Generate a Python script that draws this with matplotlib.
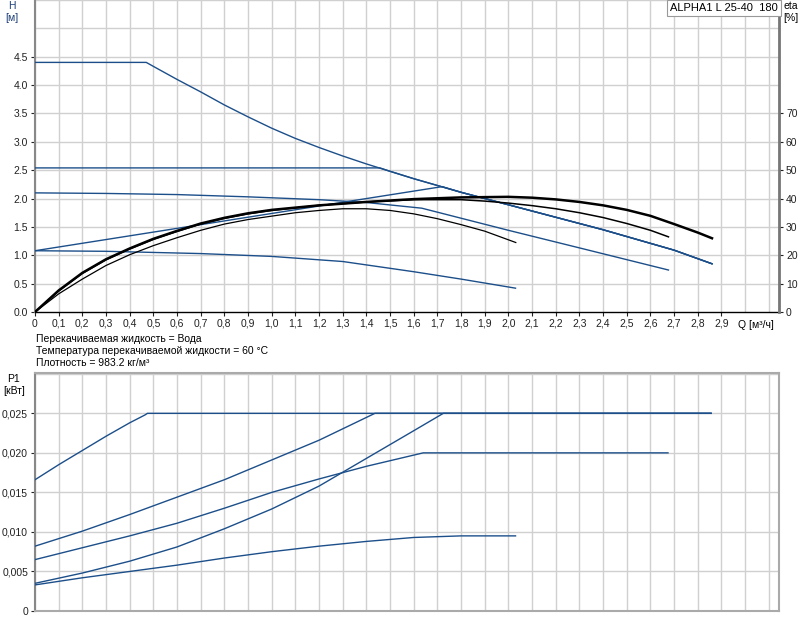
import numpy as np
import matplotlib.pyplot as plt

# pump curve data
# H curves [m]
q_max = [0, 0.47, 0.5, 0.6, 0.7, 0.8, 0.9, 1.0, 1.1, 1.2, 1.3, 1.4, 1.5, 1.6, 1.7, 1.8, 1.9,
         2.0, 2.1, 2.2, 2.3, 2.4, 2.5, 2.6, 2.7, 2.8, 2.86]
h_max = [4.40, 4.40, 4.33, 4.10, 3.88, 3.65, 3.44, 3.24, 3.06, 2.90, 2.75, 2.61, 2.48, 2.35,
         2.23, 2.11, 2.00, 1.89, 1.78, 1.67, 1.56, 1.45, 1.33, 1.21, 1.09, 0.94, 0.85]

q_cp = [0, 1.457, 1.5, 1.6, 1.7, 1.8, 1.9, 2.0, 2.1, 2.2, 2.3, 2.4, 2.5, 2.6, 2.7, 2.8, 2.86]
h_cp = [2.54, 2.54, 2.48, 2.35, 2.23, 2.11, 2.00, 1.89, 1.78, 1.67, 1.56, 1.45, 1.33, 1.21,
        1.09, 0.94, 0.85]

q_pp = [0, 1.72, 1.8, 1.9, 2.0, 2.1, 2.2, 2.3, 2.4, 2.5, 2.6, 2.7, 2.8, 2.86]
h_pp = [1.08, 2.21, 2.11, 2.00, 1.89, 1.78, 1.67, 1.56, 1.45, 1.33, 1.21, 1.09, 0.94, 0.85]

q_mid = [0, 0.3, 0.6, 0.9, 1.2, 1.4, 1.634, 2.0, 2.3, 2.676]
h_mid = [2.10, 2.09, 2.07, 2.03, 1.98, 1.93, 1.83, 1.44, 1.13, 0.74]

q_low = [0, 0.3, 0.7, 1.0, 1.3, 1.6, 1.8, 2.03]
h_low = [1.08, 1.07, 1.03, 0.98, 0.89, 0.71, 0.58, 0.42]

# efficiency curves [%]
q_eta1 = [0, 0.1, 0.2, 0.3, 0.4, 0.5, 0.6, 0.7, 0.8, 0.9, 1.0, 1.2, 1.4, 1.6, 1.8, 2.0,
          2.1, 2.2, 2.3, 2.4, 2.5, 2.6, 2.7, 2.8, 2.86]
eta1 = [0, 7.6, 13.8, 18.6, 22.4, 25.8, 28.6, 31.2, 33.2, 34.8, 36.0, 37.6, 38.8, 39.8,
        40.4, 40.6, 40.3, 39.7, 38.8, 37.6, 36.0, 33.9, 31.0, 28.0, 26.0]

q_eta2 = [0, 0.1, 0.2, 0.3, 0.4, 0.5, 0.6, 0.7, 0.8, 0.9, 1.0, 1.2, 1.4, 1.6, 1.8, 1.9,
          2.0, 2.1, 2.2, 2.3, 2.4, 2.5, 2.6, 2.676]
eta2 = [0, 7.4, 13.6, 18.4, 22.2, 25.6, 28.4, 31.0, 33.0, 34.6, 35.8, 37.6, 38.8, 39.6,
        39.6, 39.1, 38.4, 37.5, 36.4, 35.0, 33.3, 31.2, 28.8, 26.5]

q_eta3 = [0, 0.1, 0.2, 0.3, 0.4, 0.5, 0.6, 0.7, 0.8, 0.9, 1.0, 1.1, 1.2, 1.3, 1.4, 1.5,
          1.6, 1.7, 1.8, 1.9, 2.031]
eta3 = [0, 6.4, 11.6, 16.4, 20.2, 23.4, 26.2, 28.8, 31.0, 32.6, 33.8, 35.0, 35.8, 36.4,
        36.4, 35.8, 34.6, 32.9, 30.8, 28.5, 24.5]

# P1 curves [kW]
qp_max = [0, 0.1, 0.2, 0.3, 0.4, 0.465, 0.475, 2.856]
p_max = [0.0166, 0.0185, 0.0203, 0.0221, 0.0238, 0.0248, 0.0250, 0.0250]

qp_cp = [0, 0.2, 0.4, 0.6, 0.8, 1.0, 1.2, 1.436, 2.856]
p_cp = [0.0082, 0.0101, 0.0122, 0.0144, 0.0166, 0.0191, 0.0216, 0.0250, 0.0250]

qp_mid = [0, 0.2, 0.4, 0.6, 0.8, 1.0, 1.2, 1.4, 1.64, 2.674]
p_mid = [0.0065, 0.0080, 0.0095, 0.0111, 0.0130, 0.0150, 0.0167, 0.0183, 0.0200, 0.0200]

qp_pp = [0, 0.2, 0.4, 0.6, 0.8, 1.0, 1.2, 1.4, 1.6, 1.725, 2.856]
p_pp = [0.0035, 0.0048, 0.0063, 0.0081, 0.0104, 0.0129, 0.0158, 0.0193, 0.0228, 0.0250, 0.0250]

qp_low = [0, 0.2, 0.4, 0.6, 0.8, 1.0, 1.2, 1.4, 1.6, 1.8, 2.03]
p_low = [0.0033, 0.0042, 0.0050, 0.0058, 0.0067, 0.0075, 0.0082, 0.0088, 0.0093, 0.0095, 0.0095]

q_ticks = [round(0.1 * i, 1) for i in range(30)]
q_labels = ["0"] + [f"{v:.1f}".replace(".", ",") for v in q_ticks[1:]]
h_ticks = [0, 0.5, 1.0, 1.5, 2.0, 2.5, 3.0, 3.5, 4.0, 4.5]
eta_ticks = [0, 10, 20, 30, 40, 50, 60, 70]
p_ticks = [0, 0.005, 0.010, 0.015, 0.020, 0.025]
p_labels = ["0", "0,005", "0,010", "0,015", "0,020", "0,025"]

blue = "#1c4f8a"
grid_c = "#d0d0d0"
fs = 7.5
plt.rcParams['font.family'] = ['Liberation Sans', 'DejaVu Sans']

fig = plt.figure(figsize=(8.03, 6.25), dpi=100)

# ---- top chart: H and eta ----
ax = fig.add_axes([35 / 803, 1 - 312 / 625, 744 / 803, 312 / 625])
ax.set_xlim(0, 3.143)
ax.set_ylim(0, 5.5)
for x in np.arange(0, 3.15, 0.1):
    ax.axvline(x, color=grid_c, lw=1, zorder=0)
for y in np.arange(0.5, 5.6, 0.5):
    ax.axhline(y, color=grid_c, lw=1, zorder=0)

for qq, hh in [(q_max, h_max), (q_cp, h_cp), (q_pp, h_pp), (q_mid, h_mid), (q_low, h_low)]:
    ax.plot(qq, hh, color=blue, lw=1.0, zorder=3)

ax.set_xticks(q_ticks)
ax.set_xticklabels(q_labels, fontsize=fs)
ax.set_yticks(h_ticks)
ax.set_yticklabels([f"{v:.1f}" for v in h_ticks], fontsize=fs)
ax.tick_params(axis='both', length=3, width=0.8, pad=2, colors='#222222')
ax.spines['top'].set_visible(False)
ax.spines['left'].set_color('#888888')
ax.spines['left'].set_linewidth(1.5)
ax.spines['bottom'].set_color('black')
ax.spines['bottom'].set_linewidth(1.0)

ax2 = ax.twinx()
ax2.set_ylim(0, 110)
ax2.set_yticks(eta_ticks)
ax2.set_yticklabels([str(v) for v in eta_ticks], fontsize=fs)
ax2.tick_params(axis='y', length=3, width=0.8, pad=2, colors='#222222')
ax2.spines['right'].set_color('#777777')
ax2.spines['right'].set_linewidth(2)
ax2.spines['top'].set_visible(False)
ax2.spines['left'].set_visible(False)
ax2.spines['bottom'].set_visible(False)
ax2.plot(q_eta1, eta1, color='black', lw=1.8, zorder=4)
ax2.plot(q_eta2, eta2, color='black', lw=1.1, zorder=4)
ax2.plot(q_eta3, eta3, color='black', lw=0.9, zorder=4)

fig.text(12 / 803, 1 - 6 / 625, "H", fontsize=fs, ha='center', va='center', color='#1c3f7a')
fig.text(12 / 803, 1 - 18 / 625, "[м]", fontsize=fs, ha='center', va='center', color='#1c3f7a')
fig.text(791 / 803, 1 - 6 / 625, "eta", fontsize=fs, ha='center', va='center')
fig.text(791 / 803, 1 - 18 / 625, "[%]", fontsize=fs, ha='center', va='center')
fig.text(774 / 803, 1 - 325 / 625, "Q [м³/ч]", fontsize=fs, ha='right', va='center')
fig.text(724 / 803, 1 - 8 / 625, "ALPHA1 L 25-40  180", fontsize=fs + 0.5, ha='center', va='center',
         bbox=dict(boxstyle='square,pad=0.25', fc='white', ec='#999999', lw=0.8))

notes = ["Перекачиваемая жидкость = Вода",
         "Температура перекачиваемой жидкости = 60 °C",
         "Плотность = 983.2 кг/м³"]
for i, t in enumerate(notes):
    fig.text(36 / 803, 1 - (339 + 12 * i) / 625, t, fontsize=fs, ha='left', va='center')

# ---- bottom chart: P1 ----
bx = fig.add_axes([35 / 803, 1 - 611 / 625, 744 / 803, 238 / 625])
bx.set_xlim(0, 3.143)
bx.set_ylim(0, 0.0301)
for x in np.arange(0, 3.15, 0.1):
    bx.axvline(x, color=grid_c, lw=1, zorder=0)
for y in np.arange(0.005, 0.0301, 0.005):
    bx.axhline(y, color=grid_c, lw=1, zorder=0)
for qq, pp in [(qp_max, p_max), (qp_cp, p_cp), (qp_mid, p_mid), (qp_pp, p_pp), (qp_low, p_low)]:
    bx.plot(qq, pp, color=blue, lw=1.0, zorder=3)
bx.set_xticks([])
bx.set_yticks(p_ticks)
bx.set_yticklabels(p_labels, fontsize=fs)
bx.tick_params(axis='y', length=3, width=0.8, pad=2, colors='#222222')
for s in ['top', 'right', 'bottom']:
    bx.spines[s].set_color('#aaaaaa')
    bx.spines[s].set_linewidth(1.5)
bx.spines['left'].set_color('#888888')
bx.spines['left'].set_linewidth(1.5)

fig.text(14 / 803, 1 - 379 / 625, "P1", fontsize=fs, ha='center', va='center')
fig.text(14 / 803, 1 - 391 / 625, "[кВт]", fontsize=fs, ha='center', va='center')

fig.savefig("out.png", dpi=100)
